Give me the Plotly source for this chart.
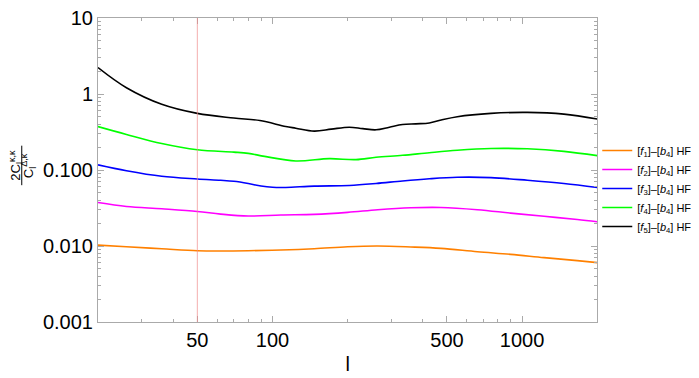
import numpy as np
import plotly.graph_objects as go

# values (multipole l, ratio)
ell_f1 = [20, 26, 36, 50, 62, 80, 108, 147, 200, 264, 358, 473, 662, 900, 1224, 1663, 2000]
ratio_f1 = [0.01028, 0.00977, 0.0092, 0.00867, 0.0086, 0.00867, 0.00885, 0.0092, 0.00977,
            0.00998, 0.0097, 0.0093, 0.0084, 0.00776, 0.00703, 0.00643, 0.00605]

ell_f2 = [20, 26, 36, 50, 62, 80, 108, 147, 200, 264, 358, 473, 662, 900, 1224, 1663, 2000]
ratio_f2 = [0.0373, 0.0331, 0.0309, 0.0285, 0.0263, 0.0248, 0.0256, 0.0261, 0.0277,
            0.0300, 0.0318, 0.0321, 0.0300, 0.0271, 0.0246, 0.0223, 0.0208]

ell_f3 = [20, 26, 36, 50, 62, 70, 80, 90, 100, 113, 147, 203, 260, 332, 425, 550, 750, 1050, 1470, 2000]
ratio_f3 = [0.1167, 0.0977, 0.0826, 0.0762, 0.0733, 0.0711, 0.0664, 0.0615, 0.0592, 0.0589,
            0.0614, 0.0625, 0.0664, 0.0718, 0.0767, 0.0802, 0.0794, 0.0733, 0.0664, 0.0589]

ell_f4 = [20, 26, 36, 50, 70, 80, 93, 124, 169, 216, 260, 332, 425, 550, 750, 1050, 1470, 2000]
ratio_f4 = [0.373, 0.294, 0.223, 0.1845, 0.172, 0.1656, 0.151, 0.1316, 0.141, 0.137,
            0.147, 0.156, 0.169, 0.182, 0.192, 0.190, 0.176, 0.1546]

ell_f5 = [20, 26, 36, 50, 70, 89, 113, 124, 147, 172, 203, 230, 260, 294, 332, 375, 425,
          474, 550, 750, 1050, 1470, 2000]
ratio_f5 = [2.23, 1.21, 0.733, 0.556, 0.483, 0.447, 0.373, 0.355, 0.325, 0.345, 0.366, 0.35,
            0.338, 0.366, 0.396, 0.405, 0.415, 0.455, 0.503, 0.556, 0.573, 0.544, 0.469]

names = ["[<i>f</i><sub>%d</sub>]–[<i>b</i><sub>4</sub>] HF" % i for i in range(1, 6)]
colors = ["#ff8000", "#ff00ff", "#0000ff", "#00ff00", "#000000"]
series = [(ell_f1, ratio_f1), (ell_f2, ratio_f2), (ell_f3, ratio_f3),
          (ell_f4, ratio_f4), (ell_f5, ratio_f5)]

fig = go.Figure()
for (x, y), name, col in zip(series, names, colors):
    fig.add_trace(go.Scatter(x=x, y=y, mode="lines", name=name,
                             line=dict(color=col, width=1.6, shape="spline", smoothing=1.0)))

fig.add_vline(x=50, line=dict(color="rgba(240,140,140,0.7)", width=1))

# minor tick positions for the log frame
y_minor = [m * 10.0 ** e for e in range(-3, 1) for m in range(2, 10)]
x_minor = [m * 10.0 ** e for e in range(1, 4) for m in range(2, 10) if 20 <= m * 10.0 ** e <= 2000]

frame = dict(showline=True, linecolor="#aaaaaa", linewidth=1, mirror="allticks",
             ticks="inside", ticklen=6, tickcolor="#aaaaaa", showgrid=False,
             zeroline=False, automargin=False, ticklabeloverflow="allow")

# the page body adds ~8px offset, margins compensate for it
fig.update_layout(
    width=699, height=378,
    margin=dict(l=90, r=108, t=10, b=64),
    paper_bgcolor="white", plot_bgcolor="white",
    font=dict(family="Liberation Sans, Arial, sans-serif", color="black"),
    xaxis=dict(type="log", range=[np.log10(20), np.log10(2000)],
               tickvals=[50, 100, 500, 1000], ticktext=["50", "100", "500", "1000"],
               tickfont=dict(size=20),
               minor=dict(ticks="inside", ticklen=3, tickcolor="#aaaaaa", tickvals=x_minor),
               title=dict(text="l", font=dict(size=20), standoff=6),
               **frame),
    yaxis=dict(type="log", range=[-3, 1],
               tickvals=[0.001, 0.01, 0.1, 1, 10],
               ticktext=["0.001", "0.010", "0.100", "1", "10"],
               tickfont=dict(size=20),
               minor=dict(ticks="inside", ticklen=3, tickcolor="#aaaaaa", tickvals=y_minor),
               **frame),
    legend=dict(xref="container", yref="container", x=0.843, xanchor="left",
                y=0.5225, yanchor="middle",
                font=dict(size=11), bgcolor="rgba(0,0,0,0)", tracegroupgap=0),
)

# y-axis label drawn as a fraction
fig.add_annotation(text="2C<sub>l</sub><sup>κ,κ</sup>", xref="paper", yref="paper",
                   x=-0.1637, y=0.515, textangle=-90, showarrow=False,
                   font=dict(size=13), xanchor="center", yanchor="middle")
fig.add_annotation(text="C<sub>l</sub><sup>Δ,κ</sup>", xref="paper", yref="paper",
                   x=-0.1387, y=0.515, textangle=-90, showarrow=False,
                   font=dict(size=13), xanchor="center", yanchor="middle")
fig.add_shape(type="line", xref="paper", yref="paper", x0=-0.1527, x1=-0.1527,
              y0=0.45, y1=0.58, line=dict(color="black", width=1))

fig.write_html("out.html")
